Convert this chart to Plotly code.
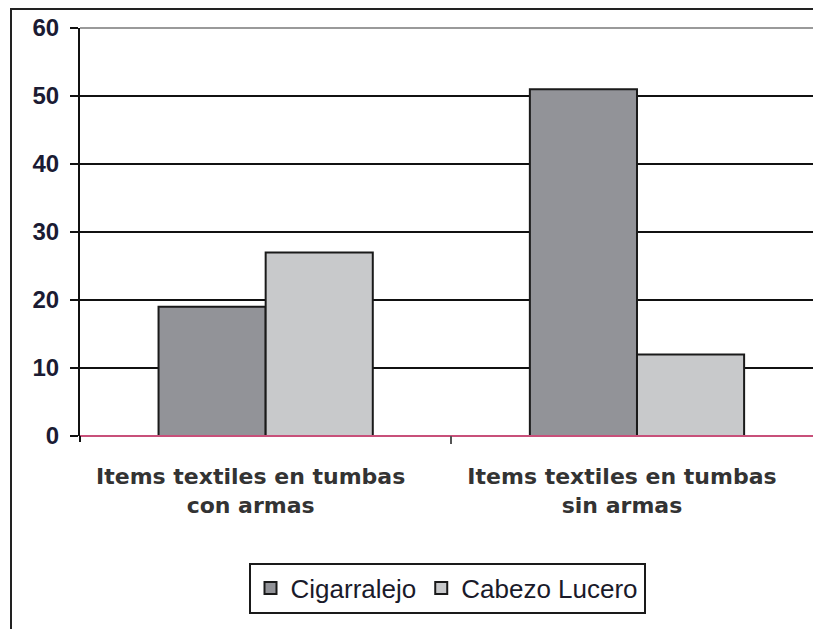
import plotly.graph_objects as go

categories = ["Items textiles en tumbas<br>con armas", "Items textiles en tumbas<br>sin armas"]
series_names = ["Cigarralejo", "Cabezo Lucero"]
cigarralejo = [19, 51]
cabezo_lucero = [27, 12]
y_ticks = [0, 10, 20, 30, 40, 50, 60]

W, H = 813, 629
L, T = 80, 28
ZERO_PX = 436
B = H - ZERO_PX
plot_w = W - L
plot_h = ZERO_PX - T


def px_x(p):
    return (p - L) / plot_w


def px_y(p):
    return (ZERO_PX - p) / plot_h


fig = go.Figure()
fig.add_trace(go.Bar(name=series_names[0], x=categories, y=cigarralejo,
                     marker=dict(color="#929398", line=dict(color="#1a1a1a", width=2))))
fig.add_trace(go.Bar(name=series_names[1], x=categories, y=cabezo_lucero,
                     marker=dict(color="#c8c9cb", line=dict(color="#1a1a1a", width=2))))

shapes = [
    dict(type="rect", xref="paper", yref="paper", x0=px_x(11), x1=px_x(840), y0=px_y(680), y1=px_y(9),
         line=dict(color="#222", width=2), fillcolor="rgba(0,0,0,0)", layer="below"),
    dict(type="line", xref="paper", yref="paper", x0=0, x1=1, y0=1, y1=1,
         line=dict(color="#9a9a9a", width=2), layer="above"),
    dict(type="line", xref="paper", yref="paper", x0=0, x1=1, y0=0, y1=0,
         line=dict(color="#c8507a", width=2), layer="above"),
    dict(type="line", xref="paper", yref="paper", x0=px_x(451), x1=px_x(451), y0=0, y1=px_y(444),
         line=dict(color="#555", width=2), layer="above"),
    dict(type="line", xref="paper", yref="paper", x0=0, x1=0, y0=0, y1=px_y(442),
         line=dict(color="#111", width=2), layer="above"),
]

fig.update_layout(
    width=W, height=H,
    margin=dict(l=L, r=0, t=T, b=B, pad=0),
    paper_bgcolor="white", plot_bgcolor="white",
    barmode="group", bargap=0.423, bargroupgap=0,
    showlegend=True,
    legend=dict(orientation="h", x=px_x(447), xanchor="center",
                y=px_y(588), yanchor="middle",
                bordercolor="#1a1a1a", borderwidth=2, bgcolor="white",
                font=dict(family="Liberation Sans, Arial", size=26, color="#1a1a2a"),
                traceorder="normal"),
    shapes=shapes,
    xaxis=dict(range=[-0.5, 1.474], showgrid=False, showline=False, ticks="",
               ticklabelstandoff=25, ticklabelshift=-15,
               tickfont=dict(family="DejaVu Sans", size=22, color="#333333", weight="bold"),
               fixedrange=True),
    yaxis=dict(range=[0, 60], tickvals=y_ticks, showgrid=True, gridcolor="#111", gridwidth=2,
               showline=True, linecolor="#111", linewidth=2, ticks="outside", ticklen=8, tickwidth=2,
               tickcolor="#111", ticklabelstandoff=6,
               zeroline=False,
               tickfont=dict(family="Liberation Sans, Arial", size=24, color="#1b1b33", weight="bold"),
               fixedrange=True),
)

fig.write_html("out.html", config={"displayModeBar": False},
               post_script="document.body.style.margin='0';document.body.style.padding='0';")
